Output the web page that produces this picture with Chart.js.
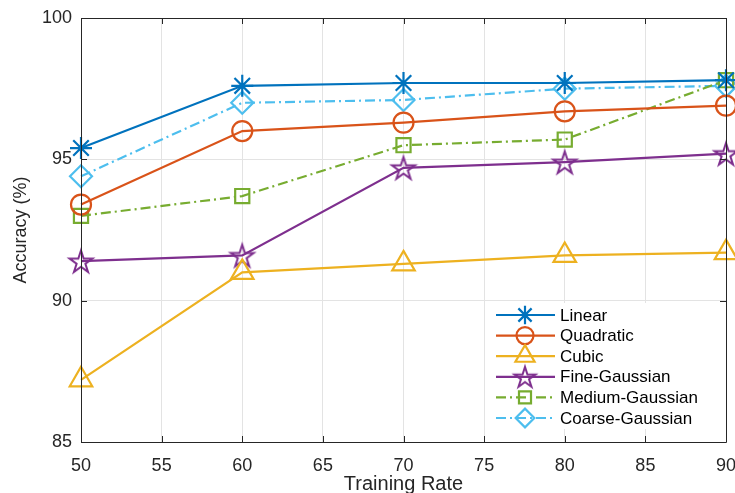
<!DOCTYPE html>
<html>
<head>
<meta charset="utf-8">
<script src="https://cdn.jsdelivr.net/npm/chart.js@4/dist/chart.umd.min.js"></script>
<style>
html,body{margin:0;padding:0;background:#fff;overflow:hidden;}
#wrap{width:735px;height:493px;position:relative;overflow:hidden;}
#c{display:block;}
</style>
</head>
<body>
<div id="wrap"><canvas id="c" width="735" height="493"></canvas></div>
<script>
// ---- data ----
const trainingRates = [50, 60, 70, 80, 90];
const linear        = [95.4, 97.6, 97.7, 97.7, 97.8];
const quadratic     = [93.4, 96.0, 96.3, 96.7, 96.9];
const cubic         = [87.2, 91.0, 91.3, 91.6, 91.7];
const fineGaussian  = [91.4, 91.6, 94.7, 94.9, 95.2];
const mediumGaussian= [93.0, 93.7, 95.5, 95.7, 97.8];
const coarseGaussian= [94.4, 97.0, 97.1, 97.5, 97.6];
const seriesNames = ['Linear','Quadratic','Cubic','Fine-Gaussian','Medium-Gaussian','Coarse-Gaussian'];
const xTicks = [50, 55, 60, 65, 70, 75, 80, 85, 90];
const yTicks = [85, 90, 95, 100];

const FONT = "'Liberation Sans', Arial, Helvetica, sans-serif";
const AXC = '#262626';

function makePentagram(color, R, lw) {
  const s = Math.ceil(2 * R + lw * 2 + 2);
  const cv = document.createElement('canvas');
  cv.width = s; cv.height = s;
  const ctx = cv.getContext('2d');
  const cx = s / 2, cy = s / 2 + R * 0.1;
  const r = R * 0.382;
  ctx.beginPath();
  for (let i = 0; i < 10; i++) {
    const rad = (i % 2 === 0) ? R : r;
    const a = -Math.PI / 2 + i * Math.PI / 5;
    const px = cx + rad * Math.cos(a), py = cy + rad * Math.sin(a);
    if (i === 0) ctx.moveTo(px, py); else ctx.lineTo(px, py);
  }
  ctx.closePath();
  ctx.strokeStyle = color; ctx.lineWidth = lw; ctx.lineJoin = 'miter';
  ctx.stroke();
  return cv;
}

const colors = ['#0072BD', '#D95319', '#EDB120', '#7E2F8E', '#77AC30', '#4DBEEE'];
const values = [linear, quadratic, cubic, fineGaussian, mediumGaussian, coarseGaussian];
const styles = ['star', 'circle', 'triangle', makePentagram('#7E2F8E', 12, 2), 'rect', 'rectRot'];
const legendStyles = ['star', 'circle', 'triangle', makePentagram('#7E2F8E', 11, 2), 'rect', 'rectRot'];
const radii = [11, 10, 13, 12, 10, 11];
const dashes = [[], [], [], [], [10, 4, 2, 4], [10, 4, 2, 4]];

const datasets = seriesNames.map((n, i) => ({
  label: n,
  data: trainingRates.map((x, j) => ({x: x, y: values[i][j]})),
  borderColor: colors[i],
  backgroundColor: 'rgba(0,0,0,0)',
  borderWidth: 2.2,
  borderDash: dashes[i],
  pointStyle: styles[i],
  pointRadius: radii[i],
  pointBorderWidth: 2.2,
  pointBorderColor: colors[i],
  pointBackgroundColor: 'rgba(0,0,0,0)',
  pointHoverRadius: radii[i],
  tension: 0,
  clip: false,
  fill: false
}));

const boxPlugin = {
  id: 'box',
  afterDatasetsDraw(chart) {
    const {ctx, chartArea: a, scales} = chart;
    ctx.save();
    ctx.strokeStyle = AXC; ctx.lineWidth = 1;
    ctx.beginPath();
    ctx.rect(Math.round(a.left) + 0.5, Math.round(a.top) + 0.5, Math.round(a.right - a.left), Math.round(a.bottom - a.top));
    ctx.stroke();
    const tl = 6;
    ctx.beginPath();
    xTicks.forEach(v => {
      const px = Math.round(scales.x.getPixelForValue(v)) + 0.5;
      ctx.moveTo(px, a.bottom); ctx.lineTo(px, a.bottom - tl);
      ctx.moveTo(px, a.top); ctx.lineTo(px, a.top + tl);
    });
    yTicks.forEach(v => {
      const py = Math.round(scales.y.getPixelForValue(v)) + 0.5;
      ctx.moveTo(a.left, py); ctx.lineTo(a.left + tl, py);
      ctx.moveTo(a.right, py); ctx.lineTo(a.right - tl, py);
    });
    ctx.stroke();

    // legend
    const lx = 489, ly = 303, lw = 236, lh = 126;
    ctx.fillStyle = '#fff';
    ctx.fillRect(lx, ly, lw, lh);
    chart.data.datasets.forEach((d, i) => {
      const y = 315 + i * 20.6;
      ctx.save();
      ctx.strokeStyle = d.borderColor; ctx.lineWidth = 2.2;
      ctx.setLineDash(d.borderDash);
      ctx.beginPath(); ctx.moveTo(496, y); ctx.lineTo(555, y); ctx.stroke();
      ctx.setLineDash([]);
      ctx.fillStyle = 'rgba(0,0,0,0)';
      ctx.strokeStyle = d.borderColor;
      Chart.helpers.drawPoint(ctx, {
        pointStyle: legendStyles[i], radius: d.pointRadius * 0.85, rotation: 0,
        borderWidth: 2.2
      }, 525, y);
      ctx.restore();
      ctx.fillStyle = '#000';
      ctx.font = '17px ' + FONT;
      ctx.textBaseline = 'middle';
      ctx.fillText(d.label, 560, y + 1);
    });
    ctx.restore();
  }
};

new Chart(document.getElementById('c'), {
  type: 'line',
  data: {datasets},
  plugins: [boxPlugin],
  options: {
    responsive: false,
    animation: false,
    devicePixelRatio: 1,
    layout: {autoPadding: false, padding: {top: 18, right: 9, left: 0, bottom: 0}},
    plugins: {legend: {display: false}, tooltip: {enabled: false}},
    scales: {
      x: {
        type: 'linear', min: 50, max: 90,
        afterBuildTicks: s => { s.ticks = xTicks.map(v => ({value: v})); },
        afterFit: s => { s.height = 51; s.paddingRight = 0; s.paddingLeft = 0; },
        grid: {color: '#e3e3e3', drawTicks: false, lineWidth: 1},
        border: {display: false},
        ticks: {color: AXC, font: {family: FONT, size: 18}, padding: 13, maxRotation: 0},
        title: {display: true, text: 'Training Rate', color: AXC, font: {family: FONT, size: 20}, padding: {top: 0, bottom: -3}}
      },
      y: {
        type: 'linear', min: 85, max: 100,
        afterBuildTicks: s => { s.ticks = yTicks.map(v => ({value: v})); },
        afterFit: s => { s.width = 81; s.paddingTop = 0; s.paddingBottom = 0; },
        grid: {color: '#e3e3e3', drawTicks: false, lineWidth: 1},
        border: {display: false},
        ticks: {color: AXC, font: {family: FONT, size: 18}, padding: 9},
        title: {display: true, text: 'Accuracy (%)', color: AXC, font: {family: FONT, size: 18}, padding: {top: 10, bottom: 0}}
      }
    }
  }
});
</script>
</body>
</html>
